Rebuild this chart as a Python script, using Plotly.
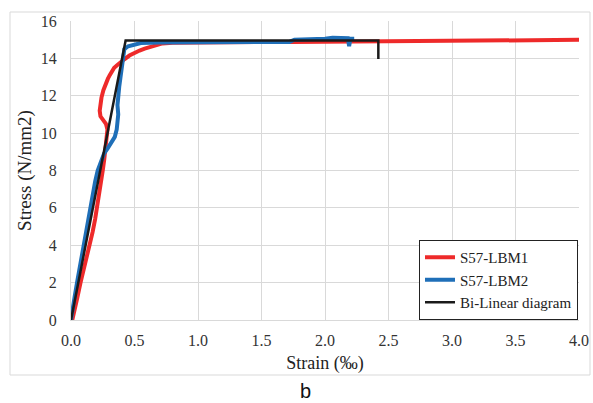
import plotly.graph_objects as go

# ---------------- data ----------------
red_name = "S57-LBM1"
red_strain = [0.010, 0.030, 0.050, 0.075, 0.100, 0.125, 0.150, 0.170, 0.190, 0.205, 0.220, 0.235,
              0.250, 0.262, 0.272, 0.283, 0.287, 0.275, 0.250, 0.232, 0.226, 0.230, 0.240, 0.255,
              0.270, 0.290, 0.305, 0.320, 0.340, 0.365, 0.390, 0.420, 0.460, 0.500, 0.540, 0.580,
              0.630, 0.680, 0.720, 0.800, 1.000, 1.250, 1.500, 1.750, 2.000, 2.250, 2.500, 2.750,
              3.000, 3.250, 3.400, 3.600, 3.800, 4.000]
red_stress = [0.00, 0.50, 1.20, 2.00, 2.70, 3.40, 4.00, 4.70, 5.40, 6.00, 6.70, 7.40,
              8.00, 8.60, 9.20, 9.80, 10.20, 10.50, 10.70, 10.90, 11.20, 11.50, 11.90, 12.30,
              12.60, 12.90, 13.10, 13.30, 13.50, 13.65, 13.80, 13.95, 14.15, 14.30, 14.42, 14.52,
              14.62, 14.72, 14.80, 14.84, 14.86, 14.87, 14.88, 14.88, 14.89, 14.90, 14.91, 14.92,
              14.93, 14.94, 14.98, 14.98, 14.99, 14.99]

blue_name = "S57-LBM2"
blue_strain = [0.000, 0.010, 0.030, 0.050, 0.070, 0.090, 0.110, 0.130, 0.150, 0.170, 0.190, 0.210,
               0.235, 0.260, 0.290, 0.320, 0.345, 0.360, 0.365, 0.372, 0.366, 0.370, 0.380, 0.390,
               0.400, 0.405, 0.410, 0.420, 0.450, 0.500, 0.550, 0.700, 1.000, 1.300, 1.600, 1.720,
               1.760, 1.900, 2.000, 2.060, 2.150, 2.180, 2.190, 2.200, 2.230]
blue_stress = [0.00, 0.50, 1.30, 2.10, 2.90, 3.70, 4.50, 5.30, 6.00, 6.70, 7.40, 8.00,
               8.50, 8.90, 9.20, 9.50, 9.80, 10.20, 10.60, 11.00, 11.50, 12.00, 12.50, 13.00,
               13.50, 14.00, 14.30, 14.50, 14.65, 14.75, 14.82, 14.85, 14.86, 14.86, 14.87, 14.88,
               15.00, 15.02, 15.05, 15.10, 15.10, 15.08, 14.65, 15.05, 15.05]

bl_name = "Bi-Linear diagram"
bl_strain = [0.00, 0.43, 2.42, 2.42]
bl_stress = [0.00, 14.95, 14.95, 13.97]

x_ticks = [0.0, 0.5, 1.0, 1.5, 2.0, 2.5, 3.0, 3.5, 4.0]
y_ticks = [0, 2, 4, 6, 8, 10, 12, 14, 16]

x_title = "Strain (‰)"
y_title = "Stress (N/mm2)"
caption = "b"

# ---------------- figure ----------------
SERIF = "Times New Roman, Liberation Serif, serif"

fig = go.Figure()
fig.add_trace(go.Scatter(x=red_strain, y=red_stress, mode="lines", name=red_name,
                         line=dict(color="#ee2a2a", width=4)))
fig.add_trace(go.Scatter(x=blue_strain, y=blue_stress, mode="lines", name=blue_name,
                         line=dict(color="#1f6fb8", width=4)))
fig.add_trace(go.Scatter(x=bl_strain, y=bl_stress, mode="lines", name=bl_name,
                         line=dict(color="#1a1a1a", width=2.5)))

L, R, T, B = 71, 579, 21, 320
W, H = 593, 403
pw, ph = R - L, B - T

def px2paper_x(px):
    return (px - L) / pw

def px2paper_y(py):
    return (B - py) / ph

fig.update_layout(
    width=W, height=H,
    margin=dict(l=L, r=W - R, t=T, b=H - B, autoexpand=False),
    paper_bgcolor="white", plot_bgcolor="white",
    font=dict(family=SERIF, color="#222222"),
    showlegend=True,
    legend=dict(x=0.998, y=0.0, xanchor="right", yanchor="bottom",
                bgcolor="white", bordercolor="#222222", borderwidth=1,
                font=dict(family=SERIF, size=15, color="#222222"),
                tracegroupgap=0, itemwidth=30),
    xaxis=dict(range=[0, 4.0], tickvals=x_ticks, ticktext=[f"{v:.1f}" for v in x_ticks],
               showgrid=True, gridcolor="#d9d9d9", gridwidth=1, automargin=False,
               zeroline=False, showline=True, linecolor="#d9d9d9", linewidth=1,
               ticks="", ticklabelstandoff=6,
               tickfont=dict(family=SERIF, size=16, color="#333333"),
               title=dict(text=x_title, font=dict(family=SERIF, size=18, color="#222222"),
                          standoff=8)),
    yaxis=dict(range=[0, 16], tickvals=y_ticks,
               showgrid=True, gridcolor="#d9d9d9", gridwidth=1, automargin=False,
               zeroline=False, showline=True, linecolor="#d9d9d9", linewidth=1,
               ticks="", ticklabelstandoff=10,
               tickfont=dict(family=SERIF, size=16, color="#333333"),
               title=dict(text=y_title, font=dict(family=SERIF, size=19, color="#222222"),
                          standoff=4)),
    shapes=[dict(type="rect", xref="paper", yref="paper",
                 x0=px2paper_x(10), x1=px2paper_x(590),
                 y0=px2paper_y(375), y1=px2paper_y(12),
                 line=dict(color="#d9d9d9", width=1), fillcolor="rgba(0,0,0,0)",
                 layer="below")],
    annotations=[dict(text=caption, xref="paper", yref="paper",
                      x=px2paper_x(305), y=px2paper_y(391),
                      xanchor="center", yanchor="middle", showarrow=False,
                      font=dict(family="Liberation Sans, Arial, sans-serif", size=20,
                                color="#111111"))],
)

fig.write_html("out.html")
